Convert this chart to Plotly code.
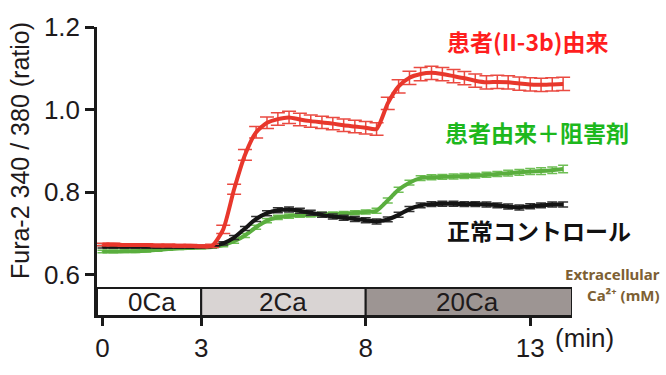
import plotly.graph_objects as go

# Sampling times (min), one point every 20 s
time_min = [0.0, 0.33, 0.67, 1.0, 1.33, 1.67, 2.0, 2.33, 2.67, 3.0,
            3.33, 3.67, 4.0, 4.33, 4.67, 5.0, 5.33, 5.67, 6.0, 6.33,
            6.67, 7.0, 7.33, 7.67, 8.0, 8.33, 8.67, 9.0, 9.33, 9.67,
            10.0, 10.33, 10.67, 11.0, 11.33, 11.67, 12.0, 12.33, 12.67, 13.0,
            13.33, 13.67, 14.0]

# Fura-2 ratio, patient-derived cells (II-3b)
patient_mean = [0.673, 0.673, 0.672, 0.672, 0.672, 0.671, 0.671, 0.670, 0.670, 0.669,
                0.670, 0.710, 0.807, 0.890, 0.945, 0.968, 0.977, 0.981, 0.976, 0.972,
                0.969, 0.966, 0.962, 0.959, 0.956, 0.953, 1.015, 1.056, 1.077, 1.086,
                1.089, 1.086, 1.081, 1.076, 1.070, 1.066, 1.067, 1.066, 1.063, 1.061,
                1.060, 1.061, 1.062]
patient_sem = [0.003, 0.003, 0.003, 0.003, 0.003, 0.003, 0.003, 0.003, 0.003, 0.003,
               0.004, 0.010, 0.012, 0.013, 0.014, 0.014, 0.015, 0.015, 0.015, 0.015,
               0.015, 0.015, 0.015, 0.015, 0.015, 0.015, 0.015, 0.016, 0.016, 0.016,
               0.016, 0.016, 0.016, 0.016, 0.016, 0.016, 0.016, 0.016, 0.016, 0.016,
               0.016, 0.016, 0.016]

# Patient-derived cells + inhibitor
inhibitor_mean = [0.656, 0.656, 0.657, 0.657, 0.658, 0.660, 0.662, 0.664, 0.665, 0.666,
                  0.667, 0.672, 0.681, 0.695, 0.715, 0.731, 0.739, 0.742, 0.744, 0.745,
                  0.746, 0.747, 0.748, 0.750, 0.752, 0.755, 0.780, 0.806, 0.823, 0.834,
                  0.836, 0.837, 0.838, 0.839, 0.840, 0.842, 0.844, 0.846, 0.848, 0.850,
                  0.851, 0.853, 0.856]
inhibitor_sem = [0.003, 0.003, 0.003, 0.003, 0.003, 0.003, 0.003, 0.003, 0.003, 0.003,
                 0.003, 0.004, 0.005, 0.005, 0.005, 0.005, 0.005, 0.005, 0.005, 0.005,
                 0.005, 0.005, 0.005, 0.005, 0.005, 0.006, 0.006, 0.006, 0.006, 0.006,
                 0.006, 0.006, 0.006, 0.006, 0.006, 0.006, 0.006, 0.007, 0.007, 0.007,
                 0.008, 0.008, 0.009]

# Healthy control cells
control_mean = [0.668, 0.668, 0.668, 0.668, 0.668, 0.668, 0.668, 0.668, 0.668, 0.668,
                0.669, 0.676, 0.690, 0.712, 0.735, 0.749, 0.756, 0.758, 0.755, 0.750,
                0.745, 0.741, 0.738, 0.735, 0.732, 0.729, 0.734, 0.745, 0.759, 0.768,
                0.771, 0.772, 0.772, 0.771, 0.771, 0.770, 0.768, 0.765, 0.763, 0.766,
                0.768, 0.770, 0.770]
control_sem = [0.003, 0.003, 0.003, 0.003, 0.003, 0.003, 0.003, 0.003, 0.003, 0.003,
               0.003, 0.004, 0.005, 0.005, 0.006, 0.006, 0.006, 0.006, 0.006, 0.006,
               0.006, 0.006, 0.006, 0.006, 0.006, 0.006, 0.006, 0.006, 0.006, 0.006,
               0.006, 0.006, 0.006, 0.006, 0.006, 0.006, 0.006, 0.006, 0.006, 0.006,
               0.006, 0.006, 0.006]

# Extracellular Ca2+ protocol
phase_labels = ["0Ca", "2Ca", "20Ca"]
phase_start = [-0.167, 3, 8]
phase_end = [3, 8, 14.27]
phase_label_x = [1.5, 5.5, 11.1]
phase_fill = ["#FFFFFF", "#D9D4D3", "#9D9593"]

x_ticks = [0, 3, 8, 13]
y_ticks = [0.6, 0.8, 1.0, 1.2]

AXIS_FONT = dict(family="Liberation Sans, Arial, sans-serif", size=26, color="#1E1A1B")
TITLE_FONT = dict(family="Liberation Sans, Arial, sans-serif", size=25, color="#1E1A1B")
JP_FONT = "Noto Sans CJK JP"
NOTE_FONT = dict(family="Noto Sans, sans-serif", size=15, color="#7D6033")

fig = go.Figure()


def add_series(y, err, line_color, err_color, err_w):
    fig.add_trace(go.Scatter(
        x=time_min, y=y, mode="lines",
        line=dict(color=line_color, width=4, shape="spline", smoothing=0.6),
        error_y=dict(type="data", array=err, visible=True, color=err_color,
                     thickness=1.5, width=err_w),
        hoverinfo="skip", showlegend=False,
    ))


add_series(inhibitor_mean, inhibitor_sem, "#5AAE3E", "#6FBF55", 5)
add_series(control_mean, control_sem, "#141414", "#333333", 5)
add_series(patient_mean, patient_sem, "#E8372C", "#EA4A41", 7)

# Protocol bar along the bottom of the axes
shapes = []
annotations = []
for lab, x0, x1, xl, fill in zip(phase_labels, phase_start, phase_end, phase_label_x, phase_fill):
    shapes.append(dict(type="rect", xref="x", yref="y", x0=x0, x1=x1,
                       y0=0.5, y1=0.568, fillcolor=fill,
                       line=dict(color="#1A1A1A", width=2), layer="above"))
    annotations.append(dict(x=xl, y=0.534, xref="x", yref="y", text=lab,
                            showarrow=False, font=AXIS_FONT))

annotations += [
    dict(x=-0.162, y=0.571, xref="paper", yref="paper", text="Fura-2 340 / 380 (ratio)",
         textangle=-90, showarrow=False, font=TITLE_FONT,
         xanchor="center", yanchor="middle"),
    dict(x=1.027, y=-0.075, xref="paper", yref="paper", text="(min)",
         showarrow=False, font=AXIS_FONT, xanchor="center", yanchor="middle"),
    dict(x=0.733, y=0.952, xref="paper", yref="paper", text="<b>患者(II-3b)由来</b>",
         showarrow=False, font=dict(family=JP_FONT, size=23, color="#FF1E1E"),
         xanchor="left", yanchor="middle"),
    dict(x=0.728, y=0.638, xref="paper", yref="paper", text="<b>患者由来＋阻害剤</b>",
         showarrow=False, font=dict(family=JP_FONT, size=23, color="#1DB81D"),
         xanchor="left", yanchor="middle"),
    dict(x=0.733, y=0.298, xref="paper", yref="paper", text="<b>正常コントロール</b>",
         showarrow=False, font=dict(family=JP_FONT, size=23, color="#111111"),
         xanchor="left", yanchor="middle"),
    dict(x=1.189, y=0.146, xref="paper", yref="paper", text="<b>Extracellular</b>",
         showarrow=False, font=NOTE_FONT, xanchor="right", yanchor="middle"),
    dict(x=1.189, y=0.073, xref="paper", yref="paper", text="<b>Ca²⁺ (mM)</b>",
         showarrow=False, font=NOTE_FONT, xanchor="right", yanchor="middle"),
]

fig.update_layout(
    width=666, height=375,
    margin=dict(l=97, r=94, t=20, b=40),
    paper_bgcolor="white", plot_bgcolor="white",
    shapes=shapes, annotations=annotations,
    xaxis=dict(range=[-0.167, 14.27], tickvals=x_ticks, ticktext=[str(v) for v in x_ticks],
               showline=True, linecolor="#1A1A1A", linewidth=2,
               ticks="outside", ticklen=8, tickwidth=2.5, tickcolor="#1A1A1A",
               showgrid=False, zeroline=False, tickfont=AXIS_FONT),
    yaxis=dict(range=[0.5, 1.2], tickvals=y_ticks, ticktext=["0.6", "0.8", "1.0", "1.2"],
               showline=True, linecolor="#1A1A1A", linewidth=2.5,
               ticks="outside", ticklen=9, tickwidth=2.5, tickcolor="#1A1A1A",
               showgrid=False, zeroline=False, tickfont=AXIS_FONT),
)

fig.write_html("out.html")
